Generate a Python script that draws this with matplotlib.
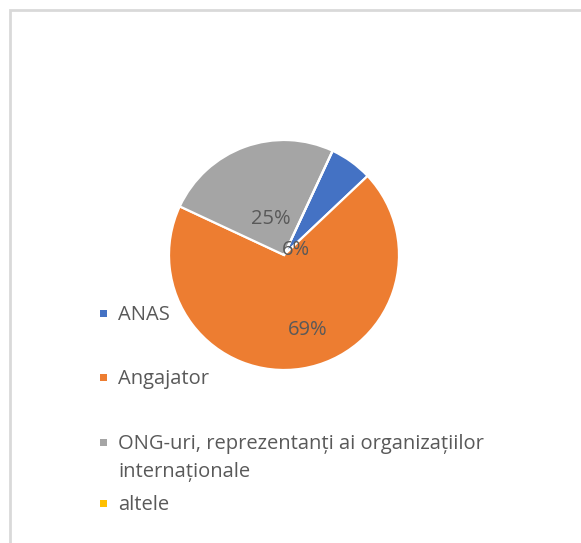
import matplotlib
matplotlib.use("Agg")
import matplotlib.pyplot as plt
from matplotlib.patches import Rectangle

# data
categories = ["ANAS", "Angajator",
              "ONG-uri, reprezentanți ai organizațiilor\ninternaționale", "altele"]
shares = [6, 69, 25, 0]
colors = ["#4472C4", "#ED7D31", "#A5A5A5", "#FFC000"]

# layout (pixels / data units)
W, H = 581, 543
cx, cy, rad = 284, 255, 115
label_pos = [(0.105, 0.061), (0.202, -0.632), (-0.114, 0.333), None]
legend_baselines = [320, 384, 449, 510]   # baseline of first line
line_gap = 28
text_color = "#595959"
fs = 14.5

plt.rcParams["font.family"] = ["Open Sans", "DejaVu Sans"]

fig = plt.figure(figsize=(W / 100, H / 100), dpi=100)

# chart frame
fig.add_artist(Rectangle((9.5 / W, -0.1), 1.2, (H - 9.5) / H + 0.1,
                         transform=fig.transFigure, fill=False,
                         edgecolor="#D9D9D9", linewidth=2))

ax = fig.add_axes([(cx - rad) / W, (H - cy - rad) / H, 2 * rad / W, 2 * rad / H])
wedges, _ = ax.pie(shares, colors=colors, startangle=65, counterclock=False,
                   radius=1, wedgeprops=dict(edgecolor="white", linewidth=1.6))
ax.set_xlim(-1, 1)
ax.set_ylim(-1, 1)
ax.set_aspect("equal")
ax.axis("off")

for val, pos in zip(shares, label_pos):
    if pos is None or val == 0:
        continue
    ax.text(pos[0], pos[1], f"{val}%", ha="center", va="center_baseline",
            fontsize=fs, color=text_color)

# legend, drawn by hand to follow the Excel spacing
for lab, col, base in zip(categories, colors, legend_baselines):
    fig.add_artist(Rectangle((100 / W, (H - base + 3) / H), 7 / W, 7 / H,
                             transform=fig.transFigure, facecolor=col,
                             edgecolor="none"))
    for i, line in enumerate(lab.split("\n")):
        fig.text(118 / W, (H - base - i * line_gap) / H, line, ha="left",
                 va="baseline", fontsize=fs, color=text_color)

fig.savefig("out.png", dpi=100, facecolor="white")
